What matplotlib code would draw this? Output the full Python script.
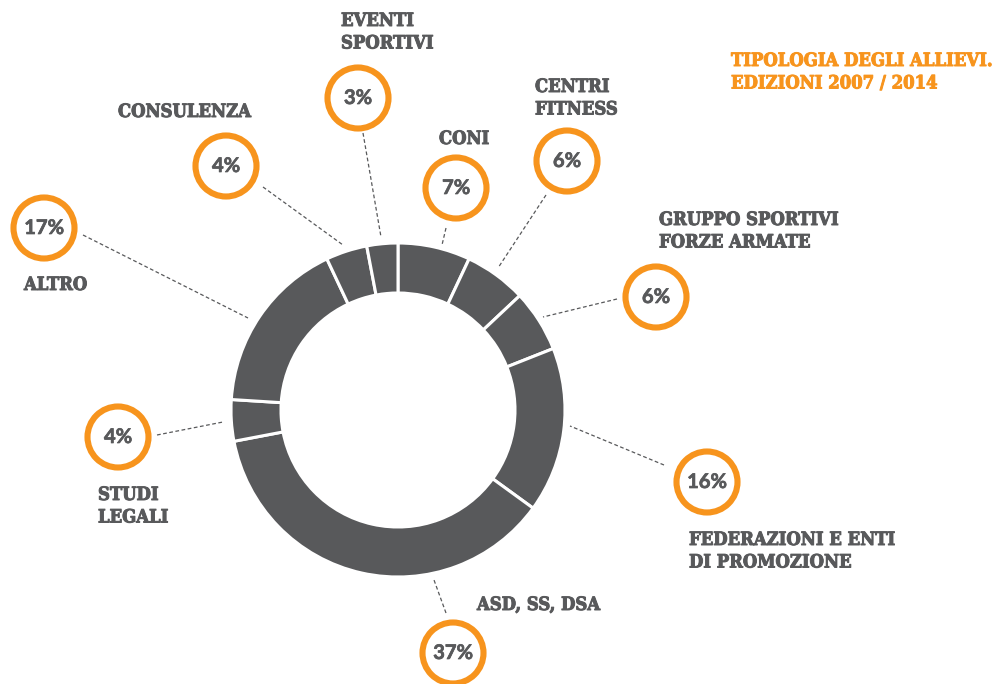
import matplotlib
matplotlib.use("Agg")
import matplotlib.pyplot as plt
import matplotlib.patheffects as pe
from matplotlib.patches import Circle

W, H = 997, 684

# data: slices clockwise from the top
categories = ["CONI", "CENTRI\nFITNESS", "GRUPPO SPORTIVI\nFORZE ARMATE",
              "FEDERAZIONI E ENTI\nDI PROMOZIONE", "ASD, SS, DSA",
              "STUDI\nLEGALI", "ALTRO", "CONSULENZA", "EVENTI\nSPORTIVI"]
shares = [7, 6, 6, 16, 37, 4, 17, 4, 3]
title = "TIPOLOGIA DEGLI ALLIEVI.\nEDIZIONI 2007 / 2014"

# layout (pixel coords, y from top)
ring_center = (398, 410)
ring_radius = 167
ring_width = 50
bubble_xy = [(456, 188), (567, 161), (656, 297), (707, 482), (453, 653),
             (118, 437), (44, 228), (226, 166), (358, 98)]
label_xy = [(439, 131), (535, 79), (659, 212), (689, 532), (477, 597),
            (98, 487), (24, 277), (118, 104), (341, 13)]
leaders = [((446, 228), (442, 245)), ((546, 195), (498, 268)),
           ((617, 299), (543, 317)), ((664, 465), (570, 426)),
           ((446, 613), (434, 580)), ((157, 435), (223, 422)),
           ((83, 235), (248, 318)), ((263, 187), (343, 245)),
           ((363, 133), (381, 237))]

GREY = "#58595b"
ORANGE = "#f7941d"
SERIF = dict(family="DejaVu Serif", fontstretch="condensed", weight="bold",
             fontsize=13.2, linespacing=1.32)


def yy(y):
    return H - y


def heavy(color, w=0.7):
    return [pe.withStroke(linewidth=w, foreground=color)]


fig = plt.figure(figsize=(W / 100, H / 100), dpi=100)
ax = fig.add_axes([0, 0, 1, 1])

ax.pie(shares, startangle=90, counterclock=False,
       center=(ring_center[0], yy(ring_center[1])), radius=ring_radius,
       colors=[GREY] * len(shares),
       wedgeprops=dict(width=ring_width, edgecolor="white", linewidth=2.2))

for (x0, y0), (x1, y1) in leaders:
    ax.plot([x0, x1], [yy(y0), yy(y1)], color=GREY, lw=0.9,
            linestyle=(0, (3, 2)))

for (bx, by), val in zip(bubble_xy, shares):
    ax.add_patch(Circle((bx, yy(by)), 30.5, fill=False, edgecolor=ORANGE,
                        linewidth=4.4))
    ax.text(bx, yy(by), f"{val}%", ha="center", va="center", color=GREY,
            family="Lato", weight="bold", fontsize=14.5,
            path_effects=heavy(GREY, 0.5))

for (lx, ly), lab in zip(label_xy, categories):
    ax.text(lx, yy(ly) + 1, lab, ha="left", va="top", color=GREY,
            path_effects=heavy(GREY), **SERIF)

ax.text(731, yy(53) + 1, title, ha="left", va="top", color=ORANGE,
        path_effects=heavy(ORANGE), **SERIF)

ax.set_xlim(0, W)
ax.set_ylim(0, H)
ax.set_aspect("equal")
ax.axis("off")

fig.savefig("out.png", dpi=100, facecolor="white")
